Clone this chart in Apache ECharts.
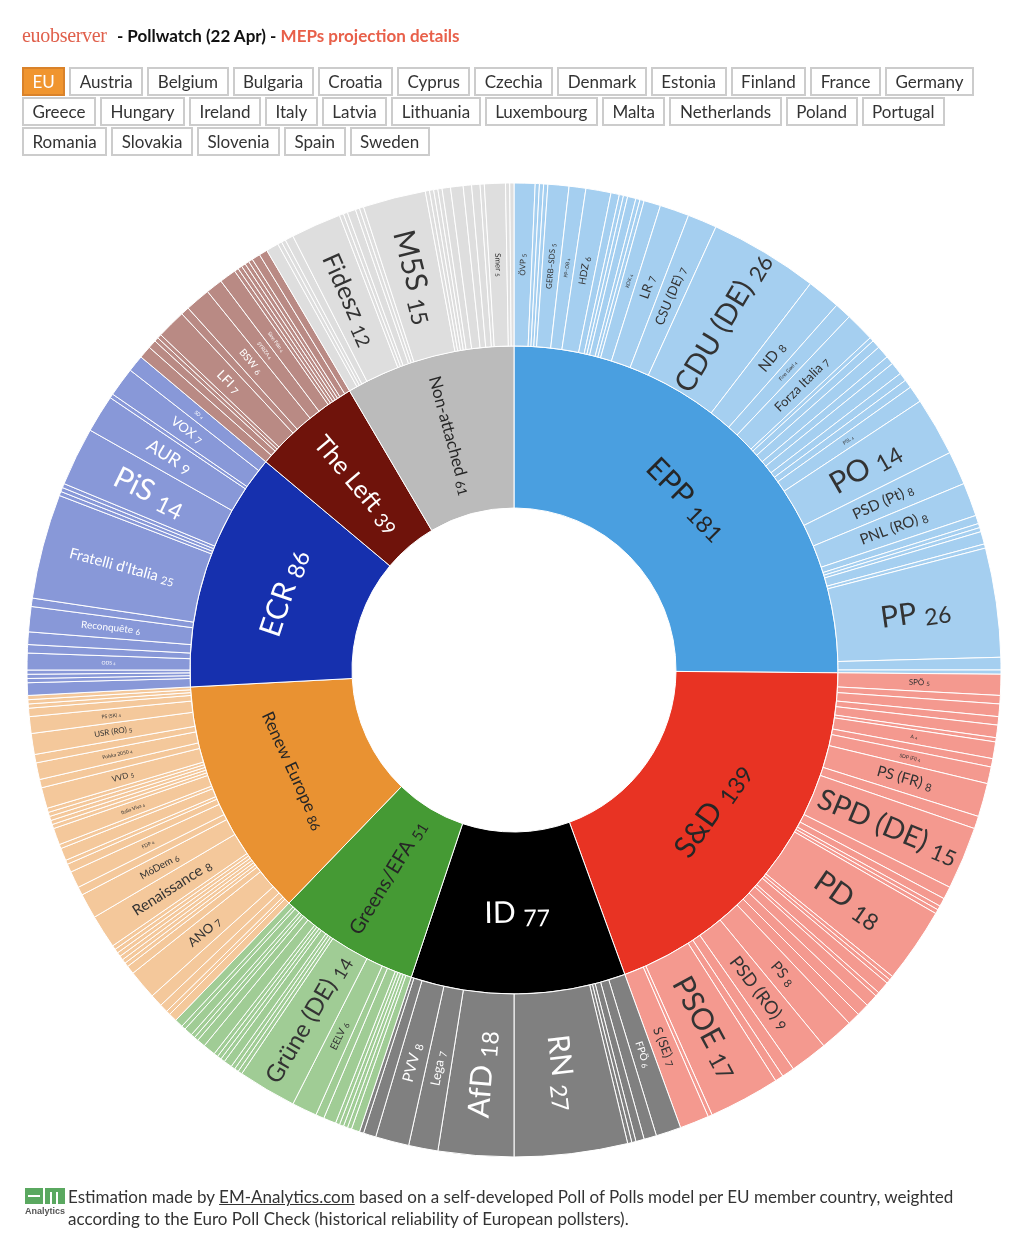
<!DOCTYPE html>
<html>
<head>
<meta charset="utf-8">
<script src="https://cdn.jsdelivr.net/npm/echarts@6/dist/echarts.min.js"></script>
<style>
  html,body{margin:0;padding:0;background:#fff;}
  body{width:1030px;height:1244px;position:relative;overflow:hidden;font-family:'Source Sans Pro',Lato,'Noto Sans',sans-serif;color:#333;}
  #chart{position:absolute;left:0;top:0;width:1030px;height:1244px;}
  #title{position:absolute;left:22px;top:24px;font-size:17px;white-space:nowrap;}
  #title .brand{font-family:'Liberation Serif','DejaVu Serif',serif;color:#e0604c;font-size:20px;letter-spacing:-0.3px;margin-right:6px;}
  #title .bold{font-weight:bold;color:#111;}
  #title .red{font-weight:bold;color:#e8604a;}
  #buttons{position:absolute;left:22px;top:67px;width:995px;display:flex;flex-wrap:wrap;}
  .btn{box-sizing:border-box;height:29px;line-height:25px;border:2px solid #ccc;padding:0 8.5px;margin:0 4px 1px 0;font-size:17px;color:#333;background:#fff;white-space:nowrap;}
  .btn.active{background:#f0952f;color:#fff;border-color:#d9822a;}
  #footer{position:absolute;left:68px;top:1186px;font-size:17px;line-height:22px;color:#333;width:930px;}
  #footer a{color:#333;text-decoration:underline;}
  #logo{position:absolute;left:25px;top:1188px;width:40px;}
  #logo .box{display:flex;gap:2px;}
  #logo .e,#logo .m{height:16px;background:#5aa860;position:relative;}
  #logo .e{width:18px;} #logo .m{width:20px;}
  #logo .e:after{content:'';position:absolute;left:3px;right:3px;top:7px;height:2px;background:#fff;}
  #logo .m:after{content:'';position:absolute;left:5px;width:2px;top:4px;bottom:0;background:#fff;box-shadow:6px 0 0 #fff;}
  #logo .t{font-size:9px;font-weight:bold;color:#555;margin-top:2px;font-family:'Liberation Sans',Arial,sans-serif;}
</style>
</head>
<body>
<div id="chart"></div>
<div id="title"><span class="brand">euobserver</span><span class="bold"> - Pollwatch (22 Apr) - </span><span class="red">MEPs projection details</span></div>
<div id="buttons"></div>
<div id="logo"><div class="box"><div class="e"></div><div class="m"></div></div><div class="t">Analytics</div></div>
<div id="footer">Estimation made by <a>EM-Analytics.com</a> based on a self-developed Poll of Polls model per EU member country, weighted<br>according to the Euro Poll Check (historical reliability of European pollsters).</div>
<script>
// ---------- DATA ----------
const countries = ['EU','Austria','Belgium','Bulgaria','Croatia','Cyprus','Czechia','Denmark','Estonia','Finland','France','Germany',
  'Greece','Hungary','Ireland','Italy','Latvia','Lithuania','Luxembourg','Malta','Netherlands','Poland','Portugal',
  'Romania','Slovakia','Slovenia','Spain','Sweden'];

const groups = ['EPP','S&D','ID','Greens/EFA','Renew Europe','ECR','The Left','Non-attached'];
const groupSeats = [181,139,77,51,86,86,39,61];

const eppParties = ['ÖVP','CD&V','Les Engagés','CSP','GERB–SDS','PP–DB','HDZ','DISY','TOP 09','KDU-ČSL','STAN','K','Isamaa','KOK','LR','CSU (DE)','CDU (DE)','ND','Fine Gael','Forza Italia','SVP','JV','TS-LKD','CSV','PN','CDA','NSC','PSL','PO','PSD (Pt)','PNL (RO)','UDMR','KDH','Demokrati','SDS','NSi','PP','M','KD'];
const eppSeats   = [5,1,1,1,5,4,6,2,1,1,2,1,1,4,7,7,26,8,4,7,1,2,3,2,3,2,2,4,14,8,8,2,1,1,3,1,26,3,1];

const sdParties = ['SPÖ','Vooruit','PS (BE)','BSP','SDP (HR)','DIKO','A','SDE','SDP (FI)','PS (FR)','Place Publique','SPD (DE)','PASOK','DK','MSZP','Labour','PD','Progresīvie','SDPS','LSDP','LSAP','PL','PvdA','Lewica','PS','PSD (RO)','Hlas','SD','PSOE','PSC','S (SE)'];
const sdSeats   = [5,2,3,2,3,1,4,2,4,8,3,15,3,2,1,1,18,1,1,3,1,3,3,3,8,9,3,2,17,1,7];

const idParties = ['FPÖ','VB','SPD (CZ)','DF','EKRE','RN','AfD','Lega','PVV','Chega','SNS'];
const idSeats   = [6,3,2,1,1,27,18,7,8,3,1];

const greensParties = ['Grüne (AT)','Groen','Ecolo','Možemo','Piráti','SF','Vihreät','EELV','Grüne (DE)','Volt (DE)','Piraten','ÖDP','AVS','LKS','LVŽS','déi gréng','GL','Volt (NL)','Livre','Vesna','Sumar','ERC','MP'];
const greensSeats   = [2,1,1,1,1,3,2,6,14,1,1,1,2,1,1,1,3,2,1,1,2,1,2];

const renewParties = ['NEOS','Open VLD','MR','DPS','ANO','V','M (DK)','RV','Reform','Kesk','Keskusta','SFP','Renaissance','MóDem','Horizons','FDP','FW','Momentum','Fianna Fáil','Azione','Italia Viva','AP!','LRLS','DP (LT)','LS','DP (LU)','VVD','D66','Polska 2050','IL','USR (RO)','PS (SK)','GS','PNV','C','L'];
const renewSeats   = [2,1,2,3,7,2,1,1,1,1,1,1,8,6,2,4,2,1,3,1,4,1,1,1,1,1,5,2,4,2,5,4,2,1,1,1];

const ecrParties = ['N-VA','VMRO','DP (HR)','ELAM','ODS','DD','PS (FI)','Reconquête','EL',"Fratelli d'Italia",'NA','JA21','SGP','PiS','AUR','SaS','VOX','SD'];
const ecrSeats   = [3,1,1,1,4,2,3,6,2,25,1,1,1,14,9,1,7,4];

const leftParties = ['PTB','AKEL','Enhedslisten','Vasemmisto','LFI','Die Linke','BSW','SYRIZA','Sinn Féin','SI','SP','PvdD','BE','CDU (PT)','Podemos','V'];
const leftSeats   = [3,2,1,1,7,2,6,4,4,1,1,1,1,1,2,2];

const niParties = ['Vazrazhdane','Přísaha','Die PARTEI','KKE','Fidesz','Mi Hazánk','Jobbik','Independent Ireland','Aontú','Independents','M5S','LPV','Stabilitātei!','Nemuno Aušra','FvD','BBB','Konfederacja','Nowa Nadzieja','SOS','Republika','Smer','SALF','Junts'];
const niSeats   = [3,1,1,2,12,1,1,2,1,1,15,1,1,1,1,2,3,2,2,1,5,1,1];

// ---------- STYLE ----------
const innerColors = ['#4a9fe0','#e83323','#000000','#459a34','#e99232','#1630ae','#6f130b','#bbbbbb'];
const outerColors = ['#a5cff0','#f4998f','#808080','#a0cc95','#f4c89b','#8898d8','#b98a84','#dedede'];
const innerText   = ['#262626','#262626','#ffffff','#262626','#262626','#ffffff','#ffffff','#262626'];
const outerText   = ['#333333','#333333','#ffffff','#333333','#333333','#ffffff','#ffffff','#333333'];
const FONT = "'Source Sans Pro', Lato, sans-serif";

const partyNames = [eppParties, sdParties, idParties, greensParties, renewParties, ecrParties, leftParties, niParties];
const partySeats = [eppSeats, sdSeats, idSeats, greensSeats, renewSeats, ecrSeats, leftSeats, niSeats];

// buttons
const bc = document.getElementById('buttons');
countries.forEach((c, i) => {
  const d = document.createElement('div');
  d.className = 'btn' + (i === 0 ? ' active' : '');
  d.textContent = c;
  bc.appendChild(d);
});

function outerFont(name, v) {
  let f = Math.max(4, Math.min(30, 2.5 * v - 5));
  const n = name.length + String(v).length * 0.6 + 0.5;
  f = Math.min(f, 140 / (0.5 * n));
  return Math.max(4, Math.round(f));
}
function innerFont(name) {
  return Math.round(Math.min(30, 200 / name.length));
}

const rich = {};
for (let s = 3; s <= 32; s++) {
  rich['n' + s] = { fontSize: s, fontFamily: FONT, lineHeight: Math.round(s * 1.15) };
  rich['v' + s] = { fontSize: s, fontFamily: FONT, lineHeight: Math.round(s * 1.15), verticalAlign: 'bottom' };
}

const data = groups.map((g, gi) => {
  const fs = innerFont(g);
  const angle = groupSeats[gi] / 720 * 360;
  return {
    name: g,
    value: groupSeats[gi],
    fs: fs,
    itemStyle: { color: innerColors[gi] },
    label: { color: innerText[gi], rotate: angle < 35 ? 'radial' : 'tangential' },
    children: partyNames[gi].map((p, pi) => {
      const v = partySeats[gi][pi];
      return {
        name: p,
        value: v,
        fs: outerFont(p, v),
        itemStyle: { color: outerColors[gi] },
        label: { show: v >= 4, color: outerText[gi], rotate: 'radial' }
      };
    })
  };
});

const chart = echarts.init(document.getElementById('chart'), null, { renderer: 'canvas' });
chart.setOption({
  animation: false,
  series: [{
    type: 'sunburst',
    center: [514, 670],
    radius: [162, 487],
    sort: null,
    nodeClick: false,
    startAngle: 90,
    emphasis: { focus: 'none' },
    itemStyle: { borderColor: '#ffffff', borderWidth: 1 },
    label: {
      fontFamily: FONT,
      formatter: function (p) {
        const fs = p.data.fs;
        const vs = Math.max(3, Math.round(fs * 0.75));
        return '{n' + fs + '|' + p.name + ' }{v' + vs + '|' + p.value + '}';
      },
      rich: rich
    },
    levels: [
      {},
      { r0: 162, r: 324, itemStyle: { borderColor: '#ffffff', borderWidth: 1 } },
      { r0: 324, r: 487, itemStyle: { borderColor: '#ffffff', borderWidth: 1 } }
    ],
    data: data
  }]
});
</script>
</body>
</html>
